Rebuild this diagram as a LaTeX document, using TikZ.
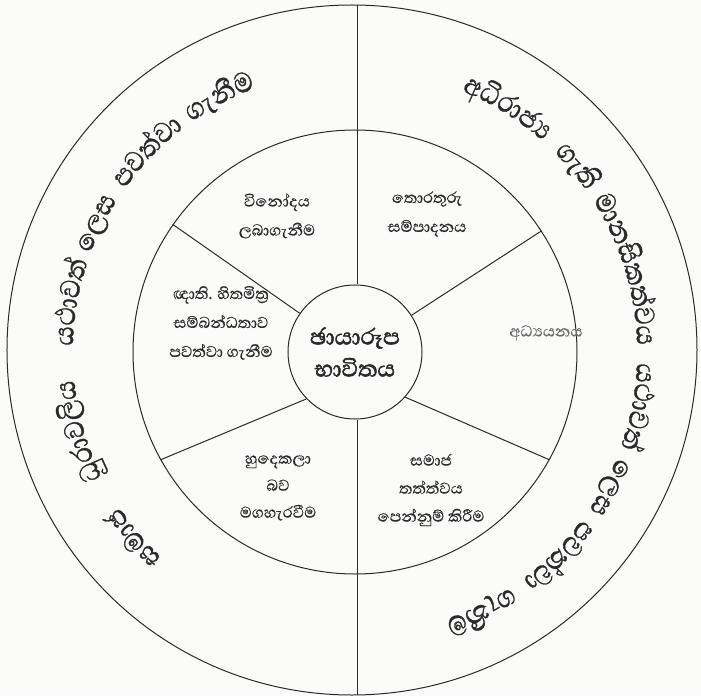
\documentclass[tikz,border=0pt]{standalone}
\usepackage{fontspec}
\newfontfamily\sinhf[Script=Sinhala, FakeBold=0.4]{Abhaya Libre}
\newfontfamily\sinharc[Script=Sinhala, FakeBold=0.9]{Abhaya Libre}
\newfontfamily\sinhbold[Script=Sinhala, FakeBold=1.8]{Abhaya Libre}
\definecolor{ink}{HTML}{2A2A2A}
\definecolor{paper}{HTML}{FBFBFA}
\newcommand\arcfont{\sinharc\fontsize{36}{38}\selectfont}
\newcommand\arcsqueeze{0.88}
\newdimen\glyphw
\newdimen\totw
\newcommand\measureglyph[1]{%
  \pgfinterruptpicture\setbox0=\hbox{\arcfont#1}\global\glyphw=\arcsqueeze\wd0\relax\endpgfinterruptpicture}
\tikzset{
  ring/.style={draw=ink, line width=1pt, circle, inner sep=0pt},
  divider/.style={draw=ink, line width=1pt},
  sector/.style={font=\sinhf\fontsize{20}{29}\selectfont, text=ink, align=center, inner sep=0pt},
  arcglyph/.style={font=\arcfont, text=ink, inner sep=0pt, anchor=base},
}
% clockwise text, tops outward: #1 name prefix, #2 baseline radius, #3 start angle, #4 clusters
\newcommand\arcCW[4]{%
  \xdef\curang{#3}%
  \foreach \c [count=\i] in {#4}{%
    \measureglyph{\c}%
    \pgfmathsetmacro\halfang{\glyphw*28.6479/#2}%
    \pgfmathsetmacro\midang{\curang-\halfang}%
    \node[arcglyph, rotate=\midang-90, xscale=\arcsqueeze] (#1\i) at (\midang:#2) {\c};%
    \pgfmathsetmacro\nxt{\midang-\halfang}%
    \xdef\curang{\nxt}%
  }}
% one word centred on an angle
\newcommand\arcword[4]{%
  \global\totw=0pt
  \foreach \c in {#4}{\measureglyph{\c}\global\advance\totw by \glyphw}%
  \pgfmathsetmacro\startang{#3+\totw*28.6479/#2}%
  \arcCW{#1}{#2}{\startang}{#4}}
\begin{document}
\begin{tikzpicture}[x=1pt,y=1pt]
\fill[paper] (-355,-344) rectangle (346,352);
\useasboundingbox (-355,-344) rectangle (346,352);

\node[ring, minimum size=690pt] (outer) at (-3,2) {};
\node[ring, minimum size=444pt] (mid) at (0,0) {};
\node[ring, minimum size=134pt, font=\sinhbold\fontsize{29}{32}\selectfont, text=ink, align=center] (hub) at (0,0) {ඡායාරූප\\භාවිතය};

% vertical dividers
\coordinate (topend) at (2,347);
\coordinate (botend) at (2,-343);
\draw[divider] (hub.north -| topend) -- (topend);
\draw[divider] (hub.south -| botend) -- (botend);
% sector dividers
\draw[divider] (hub.33) -- (mid.33);
\draw[divider] (hub.145) -- (mid.145);
\draw[divider] (hub.-42) -- (mid.-29);
\draw[divider] (hub.224) -- (mid.209);

% sector texts
\node[sector] (s1) at (-78,136) {විනෝදය\\ලබාගැනීම};
\node[sector] (s2) at (72,138) {තොරතුරු\\සම්පාදනය};
\node[sector, text=ink!70] (s3) at (191,19) {අධ්‍යයනය};
\node[sector] (s4) at (-134,29) {ඥාති. හිතමිත්‍ර\\සම්බන්ධතාව\\පවත්වා ගැනීම};
\node[sector, font=\sinhf\fontsize{20}{27}\selectfont] (s5) at (-77,-136) {හුදෙකලා\\බව\\මගහැරවීම};
\node[sector, font=\sinhf\fontsize{20}{28}\selectfont] (s6) at (76,-138) {සමාජ\\තත්ත්වය\\පෙන්නුම් කිරීම};

% outer ring, left
\arcword{La}{282}{220}{ස,මා,ජ}
\arcword{Lb}{282}{196}{ධු,රා,ව,ලි,ය}
\arcword{Lc}{282}{170}{ය,ථා,ව,ත්}
\arcword{Ld}{282}{153.5}{ලෙ,ස}
\arcword{Le}{282}{136}{ප,ව,ත්,වා}
\arcword{Lf}{282}{118}{ගැ,නී,ම}
% outer ring, right
\arcword{Ra}{282}{58}{අ,ධි,රා,ජ්‍ය}
\arcword{Rb}{282}{40}{ගැ,ති}
\arcword{Rc}{282}{17}{මා,න,සි,ක,ත්,ව,ය}
\arcword{Rd}{282}{-11}{ය,ථා,ව,ත්}
\arcword{Re}{282}{-28}{ලෙ,ස}
\arcword{Rf}{282}{-45}{ප,ව,ත්,වා}
\arcword{Rg}{282}{-64}{ගැ,නී,ම}
\end{tikzpicture}
\end{document}
